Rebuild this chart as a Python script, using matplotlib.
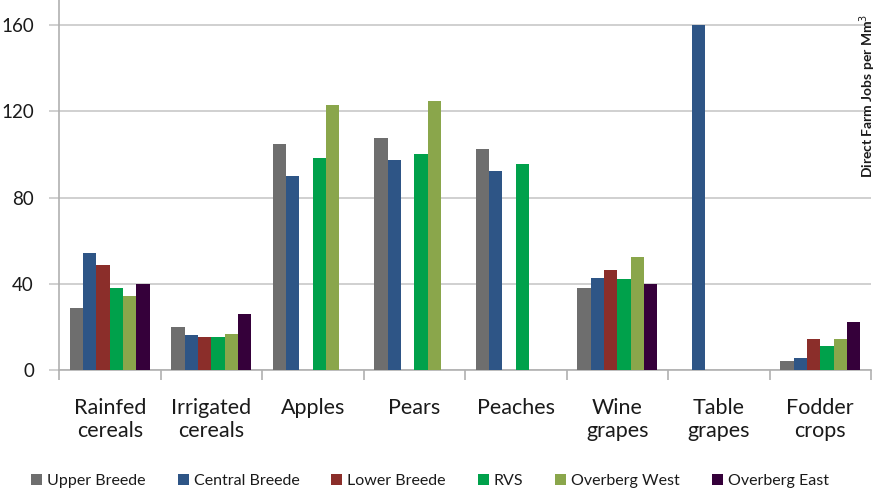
import matplotlib
matplotlib.use("Agg")
import matplotlib.pyplot as plt
import numpy as np
from matplotlib.ticker import FixedLocator

plt.rcParams['font.family'] = ['Lato', 'DejaVu Sans']

categories = ["Rainfed\ncereals", "Irrigated\ncereals", "Apples", "Pears", "Peaches",
              "Wine\ngrapes", "Table\ngrapes", "Fodder\ncrops"]
series = ["Upper Breede", "Central Breede", "Lower Breede", "RVS", "Overberg West", "Overberg East"]
upper_breede   = [28.6, 19.9, 104.8, 107.5, 102.6, 38.2, 0, 4.0]
central_breede = [54.4, 16.2, 90.0, 97.3, 92.2, 42.8, 160, 5.6]
lower_breede   = [48.7, 15.2, 0, 0, 0, 46.5, 0, 14.4]
rvs            = [38.2, 15.3, 98.3, 100.2, 95.4, 42.0, 0, 11.1]
overberg_west  = [34.5, 16.5, 122.8, 124.8, 0, 52.4, 0, 14.2]
overberg_east  = [40.0, 26.0, 0, 0, 0, 39.9, 0, 22.3]
values = [upper_breede, central_breede, lower_breede, rvs, overberg_west, overberg_east]
colors = ['#6e6e6e', '#2e5586', '#8b2e2a', '#00a14b', '#8aa64b', '#35003a']
yticks = [0, 40, 80, 120, 160]

fig = plt.figure(figsize=(8.81, 4.92), dpi=100)
ax = fig.add_axes([59/881, 1 - 370/492, (871-59)/881, 370/492])

n = len(series)
x = np.arange(len(categories))
group = 0.79
w = group / n
for i, (s, v, c) in enumerate(zip(series, values, colors)):
    ax.bar(x - group/2 + w*(i + 0.5), v, width=w, color=c, label=s, zorder=3,
           linewidth=0)

ax.set_xlim(-0.5, len(categories) - 0.5)
ax.set_ylim(0, 370/2.156)
ax.set_yticks(yticks)
ax.grid(axis='y', color='#c8c8c8', linewidth=1.2, zorder=0)
ax.set_xticks(x)
ax.set_xticklabels(categories, fontsize=15.5, color='#1a1a1a', linespacing=1.2)
ax.tick_params(axis='x', which='major', length=0, pad=20)
ax.xaxis.set_minor_locator(FixedLocator(np.arange(-0.5, len(categories), 1.0)))
ax.tick_params(axis='x', which='minor', length=7, color='#b0b0b0', width=1.2)
ax.tick_params(axis='y', length=7, color='#c8c8c8', width=1.2, pad=11,
               labelsize=13.5, labelcolor='#1a1a1a')
for s in ['top', 'right']:
    ax.spines[s].set_visible(False)
for s in ['left', 'bottom']:
    ax.spines[s].set_color('#b0b0b0')
    ax.spines[s].set_linewidth(1.2)

fig.text(868/881, 1 - 14/492, "Direct Farm Jobs per Mm$^3$", rotation=90, ha='center',
         va='top', fontsize=10, fontweight='bold', color='#1a1a1a')

leg = fig.legend(loc='center', bbox_to_anchor=(0.488, 1 - 481/492), ncol=6, frameon=False,
                 fontsize=11.5, handlelength=0.7, handleheight=0.7, handletextpad=0.3,
                 columnspacing=2.0, labelcolor='#1a1a1a')

fig.savefig("out.png", dpi=100)
